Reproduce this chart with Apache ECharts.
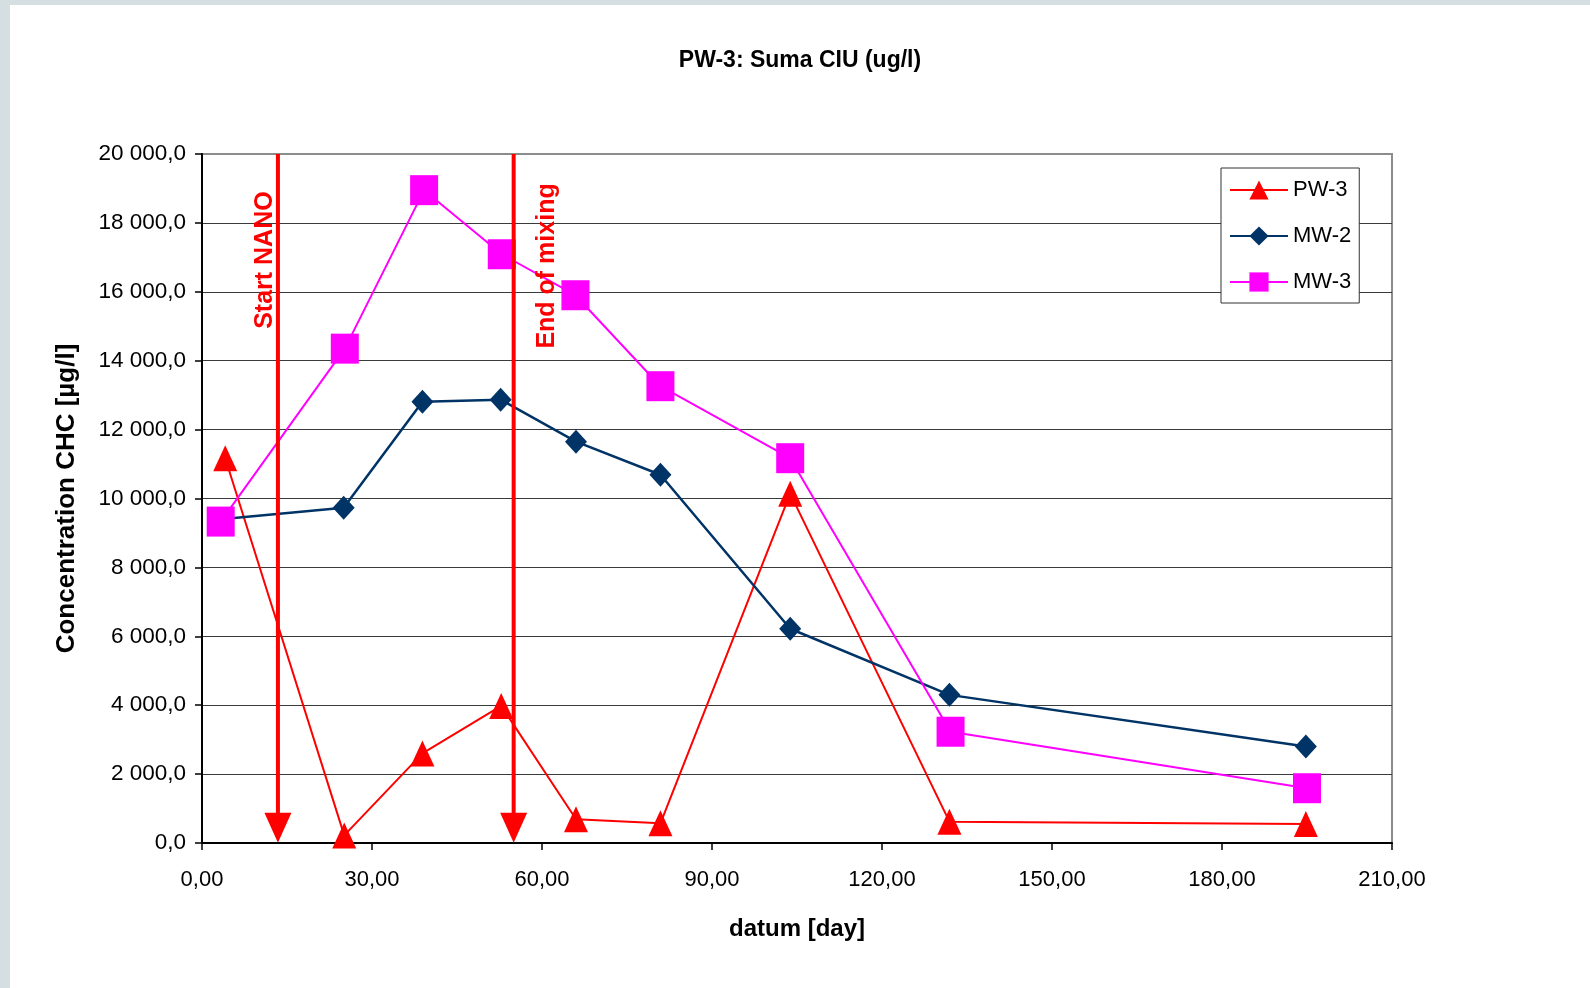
<!DOCTYPE html>
<html>
<head>
<meta charset="utf-8">
<script src="https://cdn.jsdelivr.net/npm/echarts@6/dist/echarts.min.js"></script>
<style>
  html, body { margin: 0; padding: 0; background: #ffffff; }
  #stripTop { position: absolute; left: 0; top: 0; width: 1590px; height: 5px; background: #d5dfe2; }
  #stripLeft { position: absolute; left: 0; top: 0; width: 10px; height: 988px; background: #d5dfe2; }
  #chart { position: absolute; left: 0; top: 0; width: 1590px; height: 988px; }
</style>
</head>
<body>
<div id="stripTop"></div>
<div id="stripLeft"></div>
<div id="chart"></div>
<script>
// ---- data ----
const seriesNames = ['PW-3', 'MW-2', 'MW-3'];
const pw3Days = [4.1, 25.1, 38.9, 52.8, 66.0, 80.9, 103.8, 131.9, 194.8];
const pw3Values = [11170, 220, 2600, 3980, 690, 570, 10140, 620, 550];
const mw2Days = [3.3, 25.0, 38.9, 52.7, 66.0, 80.9, 103.8, 131.9, 194.8];
const mw2Values = [9400, 9730, 12810, 12870, 11650, 10690, 6220, 4300, 2800];
const mw3Days = [3.3, 25.2, 39.2, 52.9, 65.9, 80.9, 103.8, 132.1, 195.0];
const mw3Values = [9330, 14350, 18950, 17090, 15900, 13260, 11170, 3230, 1590];

// event arrows: from top of the chart down to the axis
const eventDays = [13.4, 55.0];
const eventTopValue = 20000;
const eventHeadValue = 440;   // centre of the arrow head, its tip sits on 0
const eventLabels = ['Start NANO', 'End of mixing'];
const eventLabelDays = [11.2, 60.9];
const eventLabelValues = [16920, 16750];

const xMin = 0, xMax = 210, xStep = 30;
const yMin = 0, yMax = 20000, yStep = 2000;

function pairs(xs, ys) { return xs.map((x, i) => [x, ys[i]]); }
function fmtY(v) {
  const p = v.toFixed(1).split('.');
  return p[0].replace(/\B(?=(\d{3})+(?!\d))/g, ' ') + ',' + p[1];
}
function fmtX(v) { return v.toFixed(2).replace('.', ','); }

const FONT = "'Liberation Sans', Arial, sans-serif";
const chart = echarts.init(document.getElementById('chart'), null, { renderer: 'canvas' });

const arrowSeries = eventDays.map((d, i) => ({
  name: 'event' + i, type: 'line',
  data: [
    { value: [d, eventTopValue], symbol: 'none' },
    { value: [d, eventHeadValue], symbol: 'triangle', symbolRotate: 180, symbolSize: [27, 30] }
  ],
  showSymbol: true,
  lineStyle: { color: '#ff0000', width: 4 },
  itemStyle: { color: '#ff0000' },
  silent: true,
  z: 6
}));

const option = {
  animation: false,
  backgroundColor: 'transparent',
  textStyle: { fontFamily: FONT },
  title: {
    text: 'PW-3: Suma CIU (ug/l)',
    left: 795,
    textAlign: 'center',
    top: 44,
    textStyle: { fontFamily: FONT, fontSize: 23, fontWeight: 'bold', color: '#000' }
  },
  grid: {
    left: 202, right: 198, top: 154, bottom: 145,
    show: true, borderColor: '#8c8c8c', borderWidth: 2, backgroundColor: 'transparent'
  },
  legend: {
    data: seriesNames,
    orient: 'vertical',
    left: 1221, top: 168,
    padding: [11, 8, 10, 8],
    itemWidth: 58, itemHeight: 24, itemGap: 24,
    backgroundColor: '#fff',
    borderColor: '#333', borderWidth: 1,
    textStyle: { fontFamily: FONT, fontSize: 22, color: '#000' }
  },
  xAxis: {
    type: 'value', min: xMin, max: xMax, interval: xStep,
    name: 'datum [day]', nameLocation: 'middle', nameGap: 74,
    nameTextStyle: { fontFamily: FONT, fontSize: 24, fontWeight: 'bold', color: '#000' },
    axisLine: { show: true, onZero: false, lineStyle: { color: '#000', width: 2 } },
    axisTick: { show: true, length: 7, lineStyle: { color: '#000', width: 1.5 } },
    axisLabel: { margin: 26, fontSize: 22, color: '#000', fontFamily: FONT, formatter: fmtX },
    splitLine: { show: false }
  },
  yAxis: {
    type: 'value', min: yMin, max: yMax, interval: yStep,
    name: 'Concentration CHC [µg/l]', nameLocation: 'middle', nameGap: 122,
    nameTextStyle: { fontFamily: FONT, fontSize: 26, fontWeight: 'bold', color: '#000' },
    axisLine: { show: true, onZero: false, lineStyle: { color: '#000', width: 2 } },
    axisTick: { show: true, length: 7, lineStyle: { color: '#000', width: 1.5 } },
    axisLabel: { margin: 16, fontSize: 22.5, color: '#000', fontFamily: FONT, formatter: fmtY },
    splitLine: { show: true, showMinLine: false, showMaxLine: false, lineStyle: { color: '#3a3a3a', width: 1.2 } }
  },
  series: [
    {
      name: 'PW-3', type: 'line', data: pairs(pw3Days, pw3Values),
      symbol: 'triangle', symbolSize: [24, 26],
      lineStyle: { color: '#ff0000', width: 2 },
      itemStyle: { color: '#ff0000' },
      z: 3
    },
    {
      name: 'MW-2', type: 'line', data: pairs(mw2Days, mw2Values),
      symbol: 'diamond', symbolSize: [22, 24],
      lineStyle: { color: '#003366', width: 2.5 },
      itemStyle: { color: '#003366' },
      z: 4
    },
    {
      name: 'MW-3', type: 'line', data: pairs(mw3Days, mw3Values),
      symbol: 'rect', symbolSize: [28, 30],
      lineStyle: { color: '#ff00ff', width: 2 },
      itemStyle: { color: '#ff00ff' },
      z: 5
    },
    ...arrowSeries,
    {
      name: 'eventLabels', type: 'scatter',
      data: eventLabelDays.map((d, i) => [d, eventLabelValues[i], eventLabels[i]]),
      symbol: 'circle',
      symbolSize: 0.1,
      itemStyle: { color: 'rgba(255,0,0,0)' },
      silent: true,
      z: 7,
      label: {
        show: true, position: 'inside', rotate: 90,
        formatter: p => p.data[2],
        color: '#ff0000', fontSize: 25, fontWeight: 'bold', fontFamily: FONT,
        textBorderWidth: 0, textBorderColor: 'transparent', opacity: 1
      },
      labelLayout: { hideOverlap: false }
    }
  ]
};
chart.setOption(option);
</script>
</body>
</html>
